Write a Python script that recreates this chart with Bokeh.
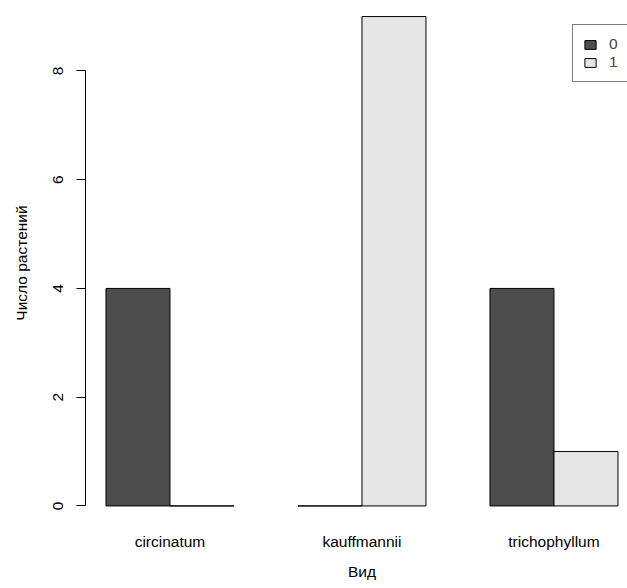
from bokeh.plotting import figure
from bokeh.models import (ColumnDataSource, FixedTicker, Range1d, Legend, LegendItem, Title)
from bokeh.embed import file_html
from bokeh.resources import INLINE

# ---- data ----
species = ["circinatum", "kauffmannii", "trichophyllum"]
groups = ["0", "1"]
counts_0 = [4, 0, 4]
counts_1 = [0, 9, 1]
colors = ["#4D4D4D", "#E6E6E6"]
y_ticks = [0, 2, 4, 6, 8]
x_title = "Вид"
y_title = "Число растений"

FONT = "Liberation Sans"
FS = "15.5px"

# R barplot(beside=TRUE) geometry: bar width 1, space 1 between groups
series = [counts_0, counts_1]
nb = len(series)
lefts = []
for i in range(len(species)):
    for j in range(nb):
        lefts.append(1 + i * (nb + 1) + j)
xmin, xmax = min(lefts), max(lefts) + 1
pad = 0.04 * (xmax - xmin)
r_x0, r_x1 = xmin - pad, xmax + pad
ymax = max(max(s) for s in series)
y0 = -0.04 * ymax

W, H = 627, 588
left_b, bottom_b = 85, 63
px_per_x = 64.0
px_per_y = 54.375
frame_w = W - left_b
frame_h = H - bottom_b

p = figure(width=W, height=H, output_backend="svg", toolbar_location=None,
           x_range=Range1d(r_x0, r_x0 + frame_w / px_per_x),
           y_range=Range1d(y0, y0 + frame_h / px_per_y),
           min_border_left=left_b, min_border_right=0, min_border_top=0,
           min_border_bottom=bottom_b)
p.outline_line_color = None
p.xgrid.visible = False
p.ygrid.visible = False
p.background_fill_color = "white"

renderers = []
for j, (g, s) in enumerate(zip(groups, series)):
    xs = [1 + i * (nb + 1) + j + 0.5 for i in range(len(species))]
    src = ColumnDataSource(dict(x=xs, top=s))
    r = p.vbar(x="x", top="top", bottom=0, width=1, source=src,
               fill_color=colors[j], line_color="black", line_width=1)
    renderers.append((g, r))

# y axis
ya = p.yaxis[0]
ya.ticker = FixedTicker(ticks=y_ticks)
ya.bounds = (min(y_ticks), max(y_ticks))
ya.major_tick_out = 9
ya.major_tick_in = 0
ya.minor_tick_line_color = None
ya.axis_line_color = "black"
ya.major_tick_line_color = "black"
ya.major_label_orientation = "vertical"
ya.major_label_text_font = FONT
ya.major_label_text_font_size = FS
ya.major_label_text_color = "black"
ya.major_label_standoff = 13
ya.axis_label = y_title
ya.axis_label_text_font = FONT
ya.axis_label_text_font_size = FS
ya.axis_label_text_font_style = "normal"
ya.axis_label_text_color = "black"
ya.axis_label_standoff = 21

# x axis: labels only
xa = p.xaxis[0]
centers = [1 + i * (nb + 1) + nb / 2 for i in range(len(species))]
xa.ticker = FixedTicker(ticks=centers)
xa.major_label_overrides = {c: s for c, s in zip(centers, species)}
xa.axis_line_color = None
xa.major_tick_line_color = None
xa.minor_tick_line_color = None
xa.major_tick_out = 0
xa.major_label_standoff = 7
xa.major_label_text_font = FONT
xa.major_label_text_font_size = FS
xa.major_label_text_color = "black"

# x title, centred on R's plot region (which extends past the window)
title_left = ((r_x0 + r_x1) / 2 - p.x_range.start) * px_per_x - 14
p.add_layout(Title(text=x_title, align="left", offset=title_left, standoff=17,
                   text_font=FONT, text_font_size=FS, text_font_style="normal",
                   text_color="black"), "below")

legend = Legend(items=[LegendItem(label=g, renderers=[r]) for g, r in renderers],
                location=(572 - left_b, frame_h - 82), margin=0, padding=10,
                spacing=0, glyph_width=14, glyph_height=11, label_height=17,
                label_width=40, label_standoff=12, label_text_font=FONT,
                label_text_font_size=FS,
                border_line_color="black", border_line_width=1,
                background_fill_color="white", background_fill_alpha=1)
p.add_layout(legend)

open("out.html", "w").write(file_html(p, INLINE))
